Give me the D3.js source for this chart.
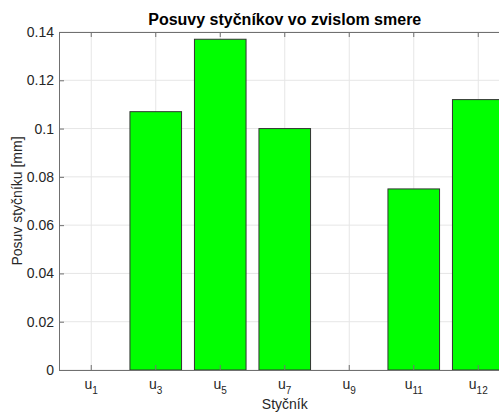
<!DOCTYPE html>
<html><head><meta charset="utf-8">
<script src="https://cdn.jsdelivr.net/npm/d3@7"></script>
<style>body{margin:0;background:#fff;} svg{display:block;font-family:"Liberation Sans",Arial,sans-serif;}</style>
</head><body>
<svg id="c" width="499" height="413"></svg>
<script>
const categories = ["1","3","5","7","9","11","12"];
const values = [0, 0.107, 0.137, 0.1, 0, 0.075, 0.112];
const yTicks = [0, 0.02, 0.04, 0.06, 0.08, 0.1, 0.12, 0.14];
const title = "Posuvy styčníkov vo zvislom smere";
const xTitle = "Styčník";
const yTitle = "Posuv styčníku [mm]";

const svg = d3.select("#c");
const L = 59, T = 32, B = 370, R = 510.5;
const x = d3.scaleBand().domain(categories).range([L, R]).paddingInner(0.2).paddingOuter(0.1);
const y = d3.scaleLinear().domain([0, 0.14]).range([B, T]);
const axisCol = "#707070", textCol = "#262626";
const fam = '"Liberation Sans",Arial,sans-serif';

// grid
svg.append("g").selectAll("line").data(categories).join("line")
  .attr("x1", d => x(d) + x.bandwidth()/2).attr("x2", d => x(d) + x.bandwidth()/2)
  .attr("y1", T).attr("y2", B).attr("stroke", "#e6e6e6");
svg.append("g").selectAll("line").data(yTicks).join("line")
  .attr("x1", L).attr("x2", R).attr("y1", d => y(d)).attr("y2", d => y(d)).attr("stroke", "#e6e6e6");

// bars
const barData = values.map((v, i) => ({c: categories[i], v})).filter(d => d.v > 0);
svg.append("g").selectAll("rect").data(barData).join("rect")
  .attr("x", d => x(d.c)).attr("width", x.bandwidth())
  .attr("y", d => y(d.v)).attr("height", d => y(0) - y(d.v))
  .attr("fill", "#00ff00").attr("stroke", "#333").attr("stroke-width", 1);

// axes
const yAxis = d3.axisLeft(y).tickValues(yTicks).tickSize(-5).tickPadding(5).tickFormat(d => String(+d.toFixed(2)));
const gy = svg.append("g").attr("transform", `translate(${L},0)`).call(yAxis).attr("font-family", fam);
gy.select(".domain").attr("stroke", axisCol);
gy.selectAll(".tick line").attr("stroke", axisCol);
gy.selectAll(".tick text").attr("fill", textCol).style("font-size", "14px").attr("x", -5);

const xAxis = d3.axisBottom(x).tickSize(-5).tickFormat("");
const gx = svg.append("g").attr("transform", `translate(0,${B})`).call(xAxis).attr("font-family", fam);
gx.select(".domain").attr("stroke", axisCol);
gx.selectAll(".tick line").attr("stroke", axisCol);
gx.selectAll(".tick").each(function(d){
  const t = d3.select(this).append("text").attr("fill", textCol).attr("y", 19).attr("text-anchor","middle").style("font-size","14px");
  t.append("tspan").text("u");
  t.append("tspan").text(d).attr("dy", 5).style("font-size","10px");
});

// top axis
const xTop = d3.axisTop(x).tickSize(-5).tickFormat("");
const gt = svg.append("g").attr("transform", `translate(0,${T})`).call(xTop);
gt.select(".domain").attr("stroke", axisCol);
gt.selectAll(".tick line").attr("stroke", axisCol);

// titles
svg.append("text").attr("x", (L+R)/2).attr("y", 25).attr("text-anchor","middle")
  .style("font-weight","bold").style("font-size","16px").attr("fill","#000").text(title);
svg.append("text").attr("x", (L+R)/2).attr("y", 409).attr("text-anchor","middle")
  .style("font-size","14px").attr("fill",textCol).text(xTitle);
svg.append("text").attr("transform", `translate(22,${(T+B)/2}) rotate(-90)`).attr("text-anchor","middle")
  .style("font-size","14px").attr("fill",textCol).text(yTitle);
</script>
</body></html>
